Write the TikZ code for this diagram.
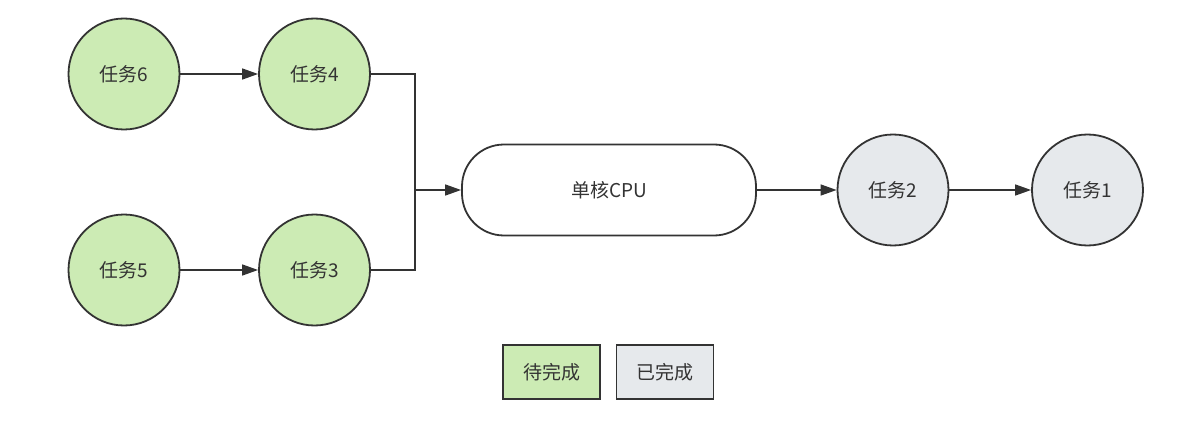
\documentclass[tikz,border=0pt]{standalone}
\usepackage{fontspec}
\setmainfont{Noto Sans CJK SC}
\usetikzlibrary{arrows.meta}
\definecolor{todo}{HTML}{CCEBB4}
\definecolor{done}{HTML}{E6E9EC}
\definecolor{edge}{HTML}{333333}
\definecolor{txt}{HTML}{333333}
\tikzset{
  task/.style={circle, draw=edge, line width=1.8pt, minimum size=111pt, inner sep=0pt, text=txt, font=\fontsize{19}{21}\selectfont},
  pending/.style={task, fill=todo},
  finished/.style={task, fill=done},
  legend/.style={rectangle, draw=edge, line width=1.8pt, minimum width=97pt, minimum height=54pt, inner sep=0pt, text=txt, font=\fontsize{19}{21}\selectfont},
  conn/.style={draw=edge, line width=1.5pt, -{Triangle[length=16pt,width=11pt]}},
  line/.style={draw=edge, line width=1.5pt}
}
\begin{document}
\begin{tikzpicture}[x=1pt,y=-1pt]
\useasboundingbox (0,0) rectangle (1200,425);
\node[pending] (t6) at (124,74) {任务6};
\node[pending] (t4) at (314.5,74) {任务4};
\node[pending] (t5) at (124,270) {任务5};
\node[pending] (t3) at (314.5,270) {任务3};
\node[draw=edge, line width=1.8pt, rounded corners=42pt, minimum width=294pt, minimum height=91pt, text=txt, font=\fontsize{19}{21}\selectfont] (cpu) at (609,190) {单核CPU};
\node[finished] (t2) at (893,190) {任务2};
\node[finished] (t1) at (1087.5,190) {任务1};
\node[legend, fill=todo] (l1) at (551.5,372) {待完成};
\node[legend, fill=done] (l2) at (665,372) {已完成};
\coordinate (j) at (415,190);
\draw[conn] (t6) -- (t4);
\draw[conn] (t5) -- (t3);
\draw[line] (t4.east) -| (j);
\draw[line] (t3.east) -| (j);
\draw[conn] (j) -- (cpu.west);
\draw[conn] (cpu.east) -- (t2.west);
\draw[conn] (t2) -- (t1);
\end{tikzpicture}
\end{document}
